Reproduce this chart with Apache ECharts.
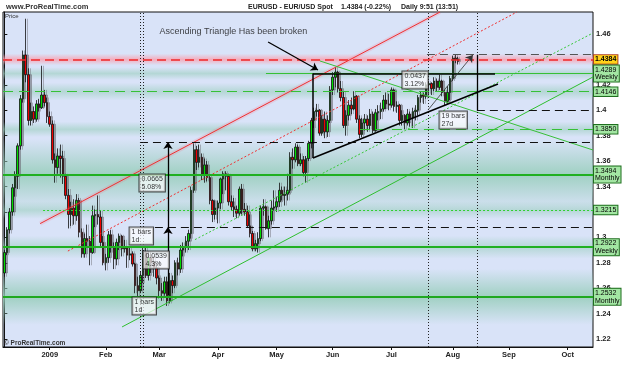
<!DOCTYPE html>
<html><head><meta charset="utf-8">
<script src="https://cdn.jsdelivr.net/npm/echarts@6/dist/echarts.min.js"></script>
<style>html,body{margin:0;padding:0;background:#fff}#c{width:625px;height:375px}</style>
</head><body><div id="c"></div>
<script>
// ---------- DATA ----------
const opens = [1.2720,1.2880,1.3060,1.3200,1.3390,1.3480,1.3720,1.4090,1.4435,1.4280,1.3920,1.3990,1.3930,1.4050,1.4020,1.4120,1.4060,
1.3950,1.3890,1.3610,1.3550,1.3640,1.3620,1.3480,1.3330,1.3180,1.3230,1.3170,1.3290,1.3040,1.2870,1.2990,1.2970,1.2880,1.3170,1.3180,1.3160,1.2960,
1.2800,1.2840,1.3020,1.2920,1.2830,1.2960,1.3010,1.2910,1.2920,1.2860,1.2870,1.2790,1.2620,1.2580,1.2700,1.2880,1.2700,1.2840,1.2800,1.2760,
1.2680,1.2580,1.2560,1.2650,1.2500,1.2660,1.2620,1.2800,1.2750,1.2900,1.2920,1.2970,1.3030,1.3370,1.3690,1.3590,1.3630,1.3490,1.3570,1.3470,1.3290,1.3180,
1.3230,1.3270,1.3460,1.3500,1.3480,1.3280,1.3240,1.3220,1.3190,1.3380,1.3220,1.3200,1.3090,1.3030,1.2910,1.2950,1.2990,1.3230,1.3240,1.3070,1.3130,1.3230,
1.3240,1.3280,1.3370,1.3330,1.3340,1.3370,1.3630,1.3610,1.3710,1.3580,1.3610,1.3510,1.3620,1.3740,1.3920,1.3990,1.4000,1.3820,1.3930,1.3830,1.3920,
1.4160,1.4260,1.4300,1.4170,1.4100,1.3880,1.3960,1.4040,1.4010,1.4110,1.3930,1.3810,1.3900,1.3930,1.3880,1.3970,1.3840,1.3980,1.3990,1.4010,1.4080,1.4050,
1.4040,1.4160,1.4030,1.4040,1.3920,1.3960,1.3900,1.3970,1.3940,1.3990,1.4000,1.4100,1.4120,1.4110,1.4200,1.4210,1.4170,1.4230,1.4180,1.4230,1.4140,1.4070,1.4140,
1.4250,1.4410,1.4400];
const highs = [1.2900,1.3080,1.3230,1.3420,1.3520,1.3740,1.4120,1.4470,1.4720,1.4330,1.4060,1.4030,1.4080,1.4090,1.4350,1.4160,1.4100,
1.3990,1.3920,1.3660,1.3700,1.3730,1.3680,1.3500,1.3380,1.3280,1.3300,1.3340,1.3310,1.3070,1.3030,1.3100,1.3010,1.3250,1.3220,1.3330,1.3210,1.3010,
1.2870,1.3050,1.3060,1.2960,1.2990,1.3030,1.3020,1.2980,1.2930,1.2930,1.2890,1.2800,1.2690,1.2730,1.2930,1.2920,1.2890,1.2880,1.2850,1.2790,
1.2700,1.2640,1.2690,1.2690,1.2720,1.2700,1.2820,1.2840,1.2940,1.2960,1.3010,1.3060,1.3400,1.3740,1.3720,1.3730,1.3660,1.3620,1.3600,1.3490,1.3300,1.3290,
1.3290,1.3470,1.3520,1.3520,1.3500,1.3330,1.3310,1.3250,1.3400,1.3420,1.3270,1.3250,1.3180,1.3050,1.2980,1.3040,1.3250,1.3300,1.3250,1.3170,1.3290,1.3370,
1.3320,1.3430,1.3400,1.3400,1.3500,1.3670,1.3700,1.3740,1.3730,1.3660,1.3640,1.3640,1.3760,1.3940,1.4020,1.4050,1.4010,1.3960,1.3990,1.3960,1.4190,
1.4300,1.4340,1.4310,1.4230,1.4150,1.4000,1.4080,1.4100,1.4150,1.4120,1.3960,1.3940,1.3970,1.3960,1.4010,1.3990,1.4010,1.4040,1.4060,1.4120,1.4140,1.4130,
1.4180,1.4170,1.4070,1.4050,1.4000,1.3970,1.4010,1.3990,1.4020,1.4040,1.4120,1.4150,1.4140,1.4220,1.4230,1.4220,1.4260,1.4250,1.4280,1.4240,1.4160,1.4190,1.4270,
1.4430,1.4440,1.4420];
const lows = [1.2690,1.2860,1.3030,1.3170,1.3320,1.3380,1.3690,1.4060,1.4220,1.3880,1.3880,1.3900,1.3910,1.3990,1.4010,1.4030,1.3900,
1.3870,1.3580,1.3430,1.3500,1.3470,1.3420,1.3300,1.3070,1.3090,1.3100,1.3130,1.3000,1.2840,1.2840,1.2920,1.2780,1.2870,1.3080,1.3100,1.2920,1.2780,
1.2740,1.2800,1.2880,1.2750,1.2780,1.2900,1.2850,1.2880,1.2760,1.2820,1.2770,1.2560,1.2510,1.2560,1.2640,1.2680,1.2660,1.2720,1.2690,1.2630,
1.2520,1.2500,1.2540,1.2460,1.2480,1.2560,1.2600,1.2700,1.2720,1.2850,1.2880,1.2900,1.2990,1.3350,1.3530,1.3550,1.3450,1.3430,1.3440,1.3260,1.3120,1.3140,
1.3110,1.3220,1.3340,1.3370,1.3250,1.3210,1.3160,1.3150,1.3170,1.3180,1.3170,1.3080,1.3000,1.2890,1.2890,1.2880,1.2970,1.3170,1.3060,1.3000,1.3100,1.3210,
1.3200,1.3240,1.3290,1.3250,1.3290,1.3350,1.3540,1.3590,1.3560,1.3560,1.3480,1.3430,1.3600,1.3700,1.3860,1.3950,1.3800,1.3800,1.3780,1.3790,1.3900,
1.4120,1.4180,1.4140,1.4070,1.3860,1.3800,1.3920,1.3970,1.4000,1.3900,1.3780,1.3790,1.3840,1.3830,1.3850,1.3820,1.3830,1.3920,1.3930,1.3990,1.4010,1.4000,
1.4020,1.3990,1.3980,1.3880,1.3880,1.3850,1.3880,1.3870,1.3860,1.3920,1.3960,1.4060,1.4050,1.4090,1.4130,1.4120,1.4150,1.4150,1.4160,1.4110,1.4040,1.4050,1.4080,
1.4230,1.4370,1.4360];
const closes = [1.2880,1.3060,1.3200,1.3390,1.3480,1.3720,1.4090,1.4435,1.4280,1.3920,1.3990,1.3930,1.4050,1.4020,1.4120,1.4060,1.3950,
1.3890,1.3610,1.3550,1.3640,1.3620,1.3480,1.3330,1.3180,1.3230,1.3170,1.3290,1.3040,1.2870,1.2990,1.2970,1.2880,1.3170,1.3180,1.3160,1.2960,1.2800,
1.2840,1.3020,1.2920,1.2830,1.2960,1.3010,1.2910,1.2920,1.2860,1.2870,1.2790,1.2620,1.2580,1.2700,1.2880,1.2700,1.2840,1.2800,1.2760,1.2680,
1.2580,1.2560,1.2650,1.2500,1.2660,1.2620,1.2800,1.2750,1.2900,1.2920,1.2970,1.3030,1.3370,1.3690,1.3590,1.3630,1.3490,1.3570,1.3470,1.3290,1.3180,1.3230,
1.3270,1.3460,1.3500,1.3480,1.3280,1.3240,1.3220,1.3190,1.3380,1.3220,1.3200,1.3090,1.3030,1.2910,1.2950,1.2990,1.3230,1.3240,1.3070,1.3130,1.3230,1.3240,
1.3280,1.3370,1.3330,1.3340,1.3370,1.3630,1.3610,1.3710,1.3580,1.3610,1.3510,1.3620,1.3740,1.3920,1.3990,1.4000,1.3820,1.3930,1.3830,1.3920,1.4160,
1.4260,1.4300,1.4170,1.4100,1.3880,1.3960,1.4040,1.4010,1.4110,1.3930,1.3810,1.3900,1.3930,1.3880,1.3970,1.3840,1.3980,1.3990,1.4010,1.4080,1.4050,1.4040,
1.4160,1.4030,1.4040,1.3920,1.3960,1.3900,1.3970,1.3940,1.3990,1.4000,1.4100,1.4120,1.4110,1.4200,1.4210,1.4170,1.4230,1.4180,1.4230,1.4140,1.4070,1.4140,1.4250,
1.4410,1.4400,1.4384];

const firstDay = '2008-12-08';
const holidays = ['2008-12-25', '2009-01-01'];
const categoryCount = 221;
const monthNames = ['2009','Feb','Mar','Apr','May','Jun','Jul','Aug','Sep','Oct','Nov','Dec'];
const yTicks = [1.22,1.24,1.26,1.28,1.30,1.32,1.34,1.36,1.38,1.40,1.42,1.44,1.46];
const yMin = 1.21371, yMax = 1.47731;

// horizontal support / resistance levels
const levelValues = [1.4400, 1.4289, 1.4146, 1.3850, 1.3494, 1.3215, 1.2922, 1.2532];
const levelLabels = ['1.4384', '1.4289\nWeekly', '1.4146', '1.3850', '1.3494\nMonthly', '1.3215', '1.2922\nWeekly', '1.2532\nMonthly'];
const levelStart = [-0.5, 98.0, -0.5, 133.2, -0.5, 14.5, -0.5, -0.5];
const bandHalf = [0.0045, 0.005, 0.007, 0.006, 0.028, 0.007, 0.009, 0.022];

// trend lines, in [bar index, price]
const redUpper = [[13.4, 1.3108], [163.2, 1.4773]];
const redLower = [[23.8, 1.2892], [192.0, 1.4773]];
const greenDotted = [[71.4, 1.2982], [220.5, 1.4608]];
const greenUpper = [[44.1, 1.2295], [220.5, 1.4262]];
const greenDown = [[118.2, 1.4388], [220.5, 1.3687]];
const triTop = [[115.6, 1.4289], [183.8, 1.4289]];
const triSide = [[115.6, 1.3624], [115.6, 1.4289]];
const triBase = [[115.6, 1.3624], [184.9, 1.4207]];
const noteArrow = [[98.8, 1.4537], [117.5, 1.4317]];

// measurement tools
const vDotX = [50.8, 52.1, 158.7, 177.0];
const measureArrows = [[[61.3, 1.3081], [61.3, 1.3750]], [[61.3, 1.2542], [61.3, 1.3081]], [[158.7, 1.4002], [175.5, 1.4435]]];
const measureVert = [[177.0, 1.4000], [177.0, 1.4437]];
const dashLevels = [1.4437, 1.4000, 1.3750, 1.3081];
const dashStart = [158.3, 177.0, 50.8, 56.4];
const boxTexts = ['0.0665\n5.08%', '1 bars\n1d', '0.0539\n4.3%', '1 bars\n1d', '0.0437\n3.12%', '19 bars\n27d'];
const boxAnchors = [[50.8, 1.3491], [47.1, 1.3074], [52.3, 1.2885], [48.2, 1.2523], [149.3, 1.4301], [163.2, 1.3986]];
const noteText = 'Ascending Triangle Has been broken';
const noteAnchor = [58.3, 1.4618];

// ---------- BUILD ----------
const cats = [];
{
  const d = new Date(firstDay + 'T00:00:00Z');
  while (cats.length < categoryCount) {
    const wd = d.getUTCDay();
    const s = d.toISOString().slice(0, 10);
    if (wd !== 0 && wd !== 6 && holidays.indexOf(s) < 0) cats.push(s);
    d.setUTCDate(d.getUTCDate() + 1);
  }
}
const isMonthStart = (i) => i > 0 && cats[i].slice(5, 7) !== cats[i - 1].slice(5, 7);
const candleData = opens.map((o, i) => [o, closes[i], lows[i], highs[i]]);

const FONT = 'Liberation Sans, Arial, sans-serif';
const xEnd = categoryCount - 0.5;
const seg = (pts, style, extra) => [
  Object.assign({ coord: pts[0], lineStyle: style, symbol: 'none' }, extra || {}),
  { coord: pts[1], symbol: (extra && extra.endSymbol) || 'none', symbolSize: 7 }
];

const levelStyles = [
  { color: '#f02828', width: 1.6, type: [9, 5] },
  { color: '#36c036', width: 1, type: 'solid' },
  { color: '#36c036', width: 1, type: [10, 6] },
  { color: '#36c036', width: 1, type: [10, 6] },
  { color: '#20b020', width: 2, type: 'solid' },
  { color: '#30d030', width: 1, type: [2, 2] },
  { color: '#20b020', width: 2, type: 'solid' },
  { color: '#20a820', width: 2, type: 'solid' }
];

const lineData = [];
lineData.push(seg(redUpper, { color: 'rgba(255,90,110,0.16)', width: 4, type: 'solid' }));
lineData.push(seg(redUpper, { color: '#f03030', width: 1, type: 'solid' }));
lineData.push(seg(redLower, { color: '#f03030', width: 1, type: [2, 2] }));
lineData.push(seg(greenDotted, { color: '#38c838', width: 1, type: [2, 2] }));
lineData.push(seg(greenUpper, { color: '#2fbf2f', width: 1, type: 'solid' }));
lineData.push(seg(greenDown, { color: '#38c038', width: 1, type: 'solid' }));
dashLevels.forEach((v, k) => {
  lineData.push(seg([[dashStart[k], v], [xEnd, v]], { color: k === 0 ? '#555' : '#111', width: 1, type: [8, 5] }));
});
vDotX.forEach(x => lineData.push(seg([[x, yMin], [x, yMax]], { color: '#222', width: 1, type: [1, 2] })));
levelValues.forEach((v, k) => {
  const yellow = k === 0;
  lineData.push([
    { coord: [levelStart[k], v], lineStyle: levelStyles[k], symbol: 'none',
      label: { show: true, position: 'end', distance: 1, formatter: levelLabels[k],
        fontFamily: FONT, fontSize: 7, lineHeight: 7.5, color: '#000', fontWeight: yellow ? 'bold' : 'normal',
        backgroundColor: yellow ? '#ffd21a' : '#a3e6a3', borderColor: yellow ? '#b04020' : '#1f6f1f',
        borderWidth: 1, padding: [1, 1, 0, 1], align: 'left' } },
    { coord: [xEnd, v], symbol: 'none' }
  ]);
});
lineData.push(seg(triTop, { color: '#000', width: 1.5, type: 'solid' }));
lineData.push(seg(triSide, { color: '#000', width: 1.5, type: 'solid' }));
lineData.push(seg(triBase, { color: '#000', width: 1.5, type: 'solid' }));
lineData.push(seg(noteArrow, { color: '#000', width: 1.3, type: 'solid' }, { endSymbol: 'arrow' }));
measureArrows.forEach((m, k) => lineData.push(seg(m, { color: k === 2 ? '#333' : '#000', width: k === 2 ? 0.8 : 1.3, type: 'solid' }, { endSymbol: 'arrow' })));
lineData.push(seg(measureVert, { color: '#000', width: 1.3, type: 'solid' }));

const bandData = levelValues.map((v, k) => {
  const c = k === 0 ? '250,160,175' : '150,205,185';
  const a = k === 0 ? 0.8 : (k === 4 || k === 7 ? 0.85 : 0.55);
  return [{ yAxis: v + bandHalf[k], itemStyle: { color: new echarts.graphic.LinearGradient(0, 0, 0, 1, [
    { offset: 0, color: 'rgba(' + c + ',0)' }, { offset: 0.5, color: 'rgba(' + c + ',' + a + ')' }, { offset: 1, color: 'rgba(' + c + ',0)' }]) } },
    { yAxis: v - bandHalf[k] }];
});

const chart = echarts.init(document.getElementById('c'), null, { renderer: 'canvas' });
chart.setOption({
  animation: false,
  grid: { left: 3, right: 32, top: 12, bottom: 28, show: true, backgroundColor: '#d9e3f8', borderColor: '#111', borderWidth: 1 },
  xAxis: [
    { type: 'category', data: cats, boundaryGap: true,
      axisLine: { lineStyle: { color: '#111' } },
      axisTick: { show: true, alignWithLabel: true, interval: (i) => isMonthStart(i), length: 3, lineStyle: { color: '#111' } },
      axisLabel: { interval: (i) => isMonthStart(i), formatter: (v) => monthNames[+v.slice(5, 7) - 1],
        fontFamily: FONT, fontSize: 7.5, fontWeight: 'bold', color: '#222', margin: 4 },
      splitLine: { show: false } },
    { type: 'value', min: -0.5, max: xEnd, show: false }
  ],
  yAxis: { type: 'value', position: 'right', min: yMin, max: yMax, scale: true,
    axisLine: { show: true, lineStyle: { color: '#111' } },
    axisTick: { show: true, customValues: yTicks, length: 3, lineStyle: { color: '#111' } },
    axisLabel: { customValues: yTicks, formatter: (v) => String(+(+v).toFixed(2)), fontFamily: FONT, fontSize: 7.5, fontWeight: 'bold', color: '#222', margin: 3 },
    splitLine: { show: false } },
  series: [
    { type: 'line', xAxisIndex: 1, data: [], z: 1, silent: true,
      markArea: { silent: true, data: bandData } },
    { type: 'candlestick', xAxisIndex: 0, data: candleData, barWidth: 2, z: 3,
      itemStyle: { color: '#00dd00', color0: '#ee0000', borderColor: '#111', borderColor0: '#111', borderWidth: 0.8,
        shadowColor: 'rgba(110,110,120,0.6)', shadowOffsetX: 2, shadowBlur: 0.5 } },
    { type: 'line', xAxisIndex: 1, data: [], z: 4, silent: true,
      markLine: { silent: true, symbol: ['none', 'none'], label: { show: false }, animation: false, data: lineData } },
    { type: 'scatter', xAxisIndex: 1, z: 10, silent: true, symbolSize: 1, itemStyle: { color: 'rgba(0,0,0,0)' },
      data: boxAnchors.map((p, k) => [p[0], p[1], boxTexts[k]]),
      label: { show: true, position: [0, 0], align: 'left', verticalAlign: 'top', formatter: (p) => p.data[2],
        fontFamily: FONT, fontSize: 7, lineHeight: 8, color: '#000', backgroundColor: 'rgba(255,255,255,0.85)',
        borderColor: '#222', borderWidth: 1, padding: [1, 2, 0, 2] } },
    { type: 'scatter', xAxisIndex: 1, z: 10, silent: true, symbolSize: 1, itemStyle: { color: 'rgba(0,0,0,0)' },
      data: [[noteAnchor[0], noteAnchor[1], noteText]],
      label: { show: true, position: [0, 0], align: 'left', verticalAlign: 'middle', formatter: (p) => p.data[2],
        fontFamily: FONT, fontSize: 9, color: '#111' } }
  ],
  graphic: [
    { type: 'text', style: { text: 'www.ProRealTime.com', x: 6, y: 7, font: 'bold 7.5px ' + FONT, fill: '#333', textVerticalAlign: 'middle' } },
    { type: 'text', style: { text: 'EURUSD - EUR/USD Spot', x: 248, y: 7, font: 'bold 7px ' + FONT, fill: '#222', textVerticalAlign: 'middle' } },
    { type: 'text', style: { text: '1.4384 (-0.22%)', x: 341, y: 7, font: 'bold 7px ' + FONT, fill: '#222', textVerticalAlign: 'middle' } },
    { type: 'text', style: { text: 'Daily 9:51 (13:51)', x: 401, y: 7, font: 'bold 7px ' + FONT, fill: '#222', textVerticalAlign: 'middle' } },
    { type: 'text', z: 100, style: { text: 'Price', x: 5, y: 16, font: '6px ' + FONT, fill: '#333', textVerticalAlign: 'middle' } },
    { type: 'text', z: 100, style: { text: '\u00a9 ProRealTime.com', x: 4, y: 343, font: 'bold 6.5px ' + FONT, fill: '#333', textVerticalAlign: 'middle' } }
  ]
});
</script></body></html>
